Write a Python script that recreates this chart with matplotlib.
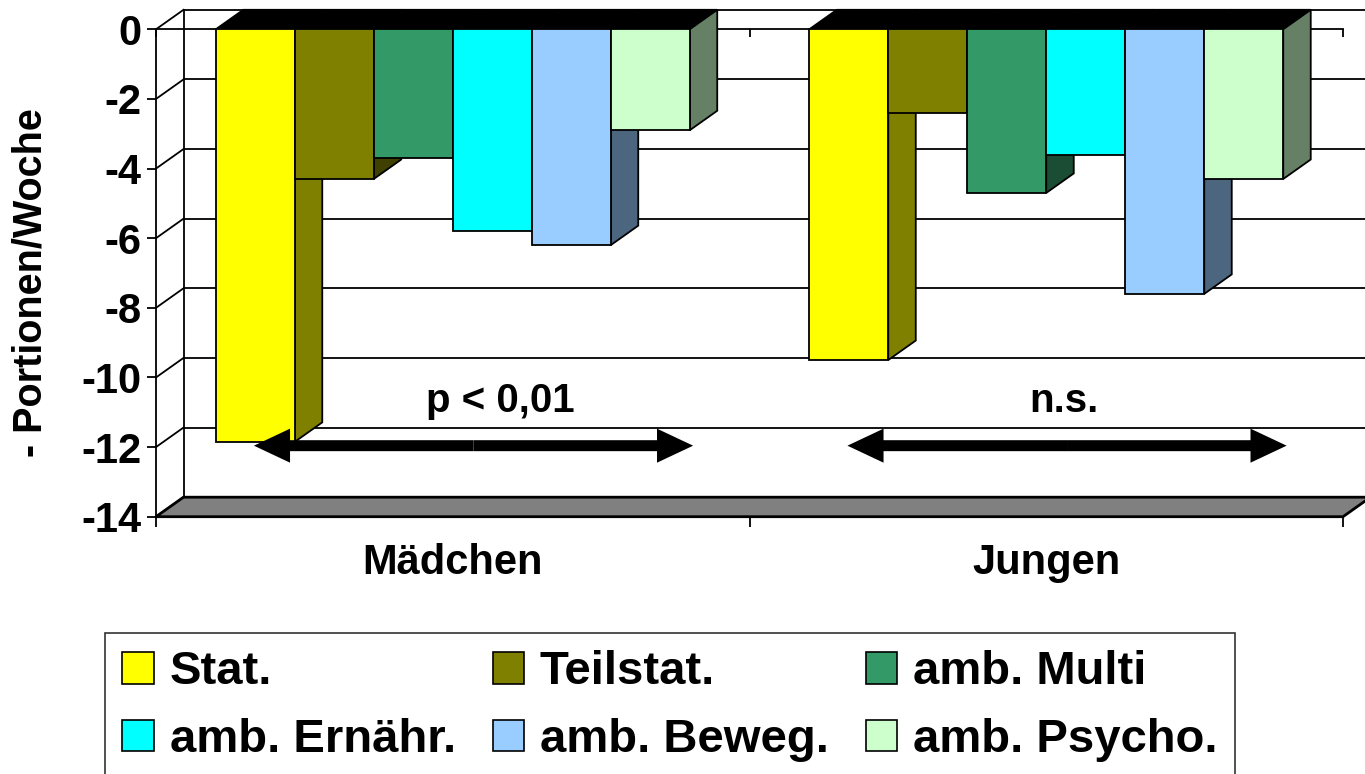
import matplotlib
matplotlib.use('Agg')
import matplotlib.pyplot as plt
from matplotlib.patches import Polygon, Rectangle, FancyArrowPatch, Patch, ArrowStyle

plt.rcParams['font.family'] = ['Liberation Sans', 'DejaVu Sans']
plt.rcParams['font.weight'] = 'bold'
plt.rcParams['axes.unicode_minus'] = False

# Daten
gruppen = ['Mädchen', 'Jungen']
serien = ['Stat.', 'Teilstat.', 'amb. Multi', 'amb. Ernähr.', 'amb. Beweg.', 'amb. Psycho.']
werte_maedchen = [-11.85, -4.3, -3.7, -5.8, -6.2, -2.9]
werte_jungen = [-9.5, -2.4, -4.7, -3.6, -7.6, -4.3]
farben = ['#FFFF00', '#808000', '#339966', '#00FFFF', '#99CCFF', '#CCFFCC']
seiten = ['#808000', '#404000', '#1A4D33', '#008080', '#4D6680', '#668066']
p_texte = ['p < 0,01', 'n.s.']
y_ticks = list(range(-14, 1, 2))

W, H = 1365, 774
fig = plt.figure(figsize=(W / 100, H / 100), dpi=100)
ax_l, ax_r, ax_t, ax_b = 156, 1343, 29.3, 516.7
ax = fig.add_axes([ax_l / W, 1 - ax_b / H, (ax_r - ax_l) / W, (ax_b - ax_t) / H])
ax.set_xlim(0, 2)
ax.set_ylim(-14, 0)
ax.patch.set_visible(False)

# 3D-Tiefe (Pixel) in Dateneinheiten
depth_px = (27.5, 19.5)
dxd = depth_px[0] * 2 / (ax_r - ax_l)
dyd = depth_px[1] * 14 / (ax_b - ax_t)

lw = 1.3
# Rueckwand + linke Wand
for v in y_ticks:
    ax.plot([dxd, 2 + dxd * 1.5], [v + dyd, v + dyd], color='black', lw=lw, zorder=1, clip_on=False)
    ax.plot([0, dxd], [v, v + dyd], color='black', lw=lw, zorder=1, clip_on=False)
ax.plot([dxd, dxd], [dyd, -14 + dyd], color='black', lw=lw, zorder=1, clip_on=False)

# Boden
boden = Polygon([(0, -14), (2, -14), (2 + dxd, -14 + dyd), (dxd, -14 + dyd)], closed=True,
                facecolor='#808080', edgecolor='black', lw=2, zorder=2, clip_on=False)
ax.add_patch(boden)

# Saeulen
bw = 0.1331
z = 3
for g, werte in enumerate([werte_maedchen, werte_jungen]):
    start = g + 0.5 - bw * len(werte) / 2
    for i, v in enumerate(werte):
        xl = start + i * bw
        xr = xl + bw
        top = Polygon([(xl, 0), (xr, 0), (xr + dxd, dyd), (xl + dxd, dyd)], closed=True,
                      facecolor='black', edgecolor='black', lw=lw, zorder=z, clip_on=False)
        side = Polygon([(xr, 0), (xr, v), (xr + dxd, v + dyd), (xr + dxd, dyd)], closed=True,
                       facecolor=seiten[i], edgecolor='black', lw=lw, zorder=z, clip_on=False)
        front = Rectangle((xl, v), bw, -v, facecolor=farben[i], edgecolor='black', lw=lw,
                          zorder=z + 0.5, clip_on=False)
        ax.add_patch(top)
        ax.add_patch(side)
        ax.add_patch(front)
        z += 1

# Doppelpfeile + Signifikanz
pfeil = ArrowStyle.Simple(head_length=26, head_width=24.5, tail_width=7.9)
text_x = [0.58, 1.53]
for g in range(2):
    mitte = g + 0.535
    for ende in (g + 0.165, g + 0.905):
        a = FancyArrowPatch((mitte, -11.96), (ende, -11.96), arrowstyle=pfeil, mutation_scale=1,
                            color='black', lw=0, shrinkA=0, shrinkB=0, zorder=40)
        ax.add_patch(a)
    ax.text(text_x[g], -11.0, p_texte[g], ha='center', va='baseline', fontsize=29,
            fontweight='bold', zorder=41)

# Achsen
ax.spines['right'].set_visible(False)
for s in ['left', 'bottom', 'top']:
    ax.spines[s].set_linewidth(lw)
ax.set_yticks(y_ticks)
ax.set_yticklabels([str(t) for t in y_ticks])
ax.tick_params(axis='y', length=6.5, width=lw, pad=4, labelsize=30)
ax.set_xticks([0, 1, 2])
ax.set_xticklabels(['', '', ''])
ax.set_xticks([0.5, 1.5], minor=True)
ax.set_xticklabels(gruppen, minor=True, fontsize=30, fontweight='bold')
ax.tick_params(axis='x', which='major', length=7, width=lw, direction='out')
ax.tick_params(axis='x', which='minor', length=0, pad=19)
sec = ax.secondary_xaxis('top')
sec.set_xticks([0, 1, 2])
sec.tick_params(direction='in', length=6, width=lw, labeltop=False)
sec.spines['top'].set_visible(False)

fig.text(31 / W, 1 - 283 / H, '- Portionen/Woche', rotation=90, ha='center', va='center',
         fontsize=28.5, fontweight='bold')

# Legende zeilenweise wie im Original
ncol = 3
reihenfolge = [r * ncol + c for c in range(ncol) for r in range(len(serien) // ncol)]
handles = [Patch(facecolor=farben[k], edgecolor='black', lw=1.2) for k in reihenfolge]
labels = [serien[k] for k in reihenfolge]
leg = fig.legend(handles, labels, loc='upper left', bbox_to_anchor=(105 / W, 1 - 633 / H),
                 ncol=ncol, fontsize=34, frameon=True, fancybox=False, borderaxespad=0,
                 handlelength=0.66, handleheight=0.66, handletextpad=0.34,
                 columnspacing=0.78, labelspacing=0.5, borderpad=0.37)
leg.get_frame().set_edgecolor('black')
leg.get_frame().set_linewidth(1.2)
for t in leg.get_texts():
    t.set_fontweight('bold')

fig.savefig('out.png', dpi=100)
